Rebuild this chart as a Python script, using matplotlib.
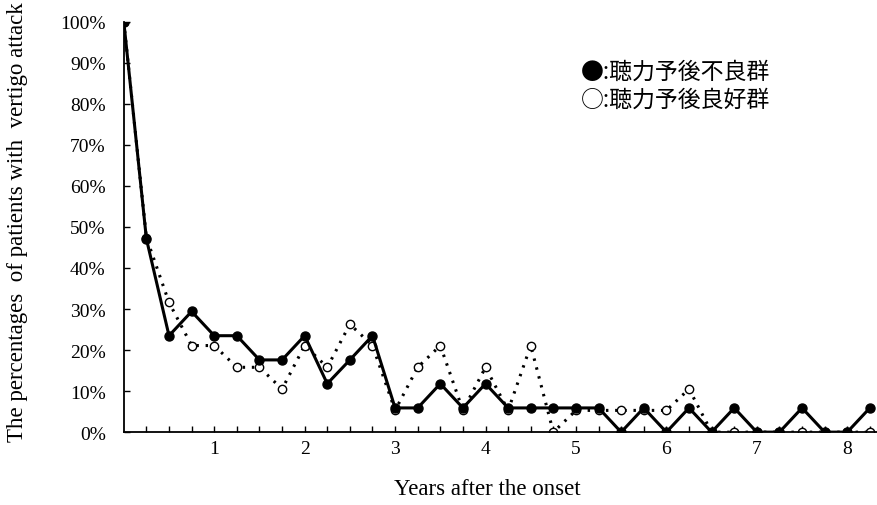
import numpy as np
import matplotlib
matplotlib.use("Agg")
import matplotlib.pyplot as plt

# years after onset, quarter-year steps
years = [0, 0.25, 0.5, 0.75, 1.0, 1.25, 1.5, 1.75, 2.0, 2.25, 2.5, 2.75,
         3.0, 3.25, 3.5, 3.75, 4.0, 4.25, 4.5, 4.75, 5.0, 5.25, 5.5, 5.75,
         6.0, 6.25, 6.5, 6.75, 7.0, 7.25, 7.5, 7.75, 8.0, 8.25]

# poor hearing prognosis group (filled)
poor = [100, 47.1, 23.5, 29.4, 23.5, 23.5, 17.6, 17.6, 23.5, 11.8, 17.6, 23.5,
        5.9, 5.9, 11.8, 5.9, 11.8, 5.9, 5.9, 5.9, 5.9, 5.9, 0, 5.9,
        0, 5.9, 0, 5.9, 0, 0, 5.9, 0, 0, 5.9]

# good hearing prognosis group (open)
good = [100, 47.4, 31.6, 21.1, 21.1, 15.8, 15.8, 10.5, 21.1, 15.8, 26.3, 21.1,
        5.3, 15.8, 21.1, 5.3, 15.8, 5.3, 21.1, 0, 5.3, 5.3, 5.3, 5.3,
        5.3, 10.5, 0, 0, 0, 0, 0, 0, 0, 0]

yticks = np.arange(0, 101, 10)
xticks = [1, 2, 3, 4, 5, 6, 7, 8]

serif = ["Liberation Serif", "DejaVu Serif"]
cjk = ["Noto Sans CJK JP", "DejaVu Sans"]

fig = plt.figure(figsize=(8.78, 5.06), dpi=100)
ax = fig.add_axes([0.141, 0.144, 0.859, 0.811])

ax.plot(years, good, color="black", linestyle=(0, (0.8, 2.2)), linewidth=2.2,
        marker="o", markersize=6, markerfacecolor="white",
        markeredgecolor="black", markeredgewidth=1.0, zorder=2)
ax.plot(years, poor, color="black", linestyle="-", linewidth=2.2,
        marker="o", markersize=6.5, markerfacecolor="black",
        markeredgecolor="black", zorder=3)

ax.set_xlim(0, 8.34)
ax.set_ylim(0, 100)
ax.spines["top"].set_visible(False)
ax.spines["right"].set_visible(False)
ax.spines["left"].set_linewidth(1.3)
ax.spines["bottom"].set_linewidth(1.3)

ax.set_yticks(yticks)
ax.set_yticklabels(["%d%%" % v for v in yticks], fontfamily=serif, fontsize=14)
ax.set_xticks(xticks)
ax.set_xticklabels([str(v) for v in xticks], fontfamily=serif, fontsize=14)
ax.set_xticks(np.arange(0.25, 8.3, 0.25), minor=True)
ax.tick_params(axis="both", which="both", direction="in", length=4, width=1)
ax.tick_params(axis="y", pad=13)
ax.tick_params(axis="x", which="major", pad=6)

ax.set_xlabel("Years after the onset", fontfamily=serif, fontsize=16.5)
ax.xaxis.set_label_coords(0.482, -0.112)
ax.set_ylabel("The percentages  of patients with  vertigo attack",
              fontfamily=serif, fontsize=16.5)
ax.yaxis.set_label_coords(-0.127, 0.515)

ax.text(0.606, 0.88, "●:聴力予後不良群", transform=ax.transAxes,
        fontfamily=cjk, fontsize=16.5, va="center")
ax.text(0.606, 0.812, "○:聴力予後良好群", transform=ax.transAxes,
        fontfamily=cjk, fontsize=16.5, va="center")

fig.savefig("out.png", dpi=100)
